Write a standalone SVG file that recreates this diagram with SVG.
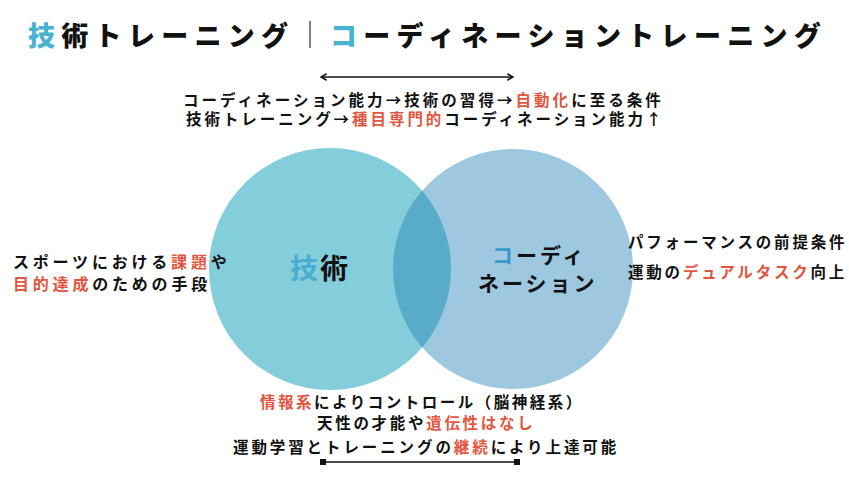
<svg xmlns="http://www.w3.org/2000/svg" width="849" height="477" viewBox="0 0 849 477">
<style>
text { font-family: "Noto Sans CJK JP", "Noto Sans", sans-serif; font-weight: 700; fill: #111111; }
.title { font-size: 27px; letter-spacing: 6.3px; font-weight: 900; }
.body { font-size: 15.5px; letter-spacing: 2.8px; }
.red { fill: #E2553F; }
.blue { fill: #45B3D1; }
.cblue { fill: #3B98CB; }
.circ { font-size: 21px; letter-spacing: 3px; }
</style>
<defs>
<marker id="chev" viewBox="0 0 10 10" refX="9" refY="5" markerWidth="8" markerHeight="8" markerUnits="userSpaceOnUse" orient="auto-start-reverse">
<path d="M2,1 L9,5 L2,9" fill="none" stroke="#111" stroke-width="2"/>
</marker>
<marker id="sq" viewBox="0 0 10 10" refX="5" refY="5" markerWidth="6" markerHeight="6" markerUnits="userSpaceOnUse">
<rect x="0" y="0" width="10" height="10" fill="#111"/>
</marker>
<clipPath id="leftClip"><circle cx="330" cy="269" r="121"/></clipPath>
</defs>
<rect width="849" height="477" fill="#ffffff"/>

<g id="title">
<text class="title" x="28" y="46"><tspan class="blue">技</tspan>術トレーニング</text>
<line x1="310" y1="21" x2="310" y2="48" stroke="#555" stroke-width="1.5"/>
<text class="title" x="330" y="46"><tspan class="blue">コ</tspan>ーディネーショントレーニング</text>
</g>

<g id="circles">
<g id="node-gijutsu">
<circle cx="330" cy="269" r="121" fill="#84CDDA"/>
</g>
<g id="node-coordination">
<circle cx="513" cy="269" r="120" fill="#9DC8DF"/>
</g>
<circle cx="513" cy="269" r="120" fill="#58ABC9" clip-path="url(#leftClip)"/>
<text x="290" y="279" style="font-size:28px;letter-spacing:2px"><tspan fill="#4AAED0">技</tspan>術</text>
<text class="circ" x="492" y="263"><tspan class="cblue">コ</tspan>ーディ</text>
<text class="circ" x="478" y="291">ネーション</text>
</g>

<g id="connectors">
<line x1="321" y1="77" x2="513" y2="77" stroke="#111" stroke-width="1.5" marker-start="url(#chev)" marker-end="url(#chev)"/>
<line x1="323" y1="462" x2="517" y2="462" stroke="#111" stroke-width="1.5" marker-start="url(#sq)" marker-end="url(#sq)"/>
</g>

<g id="top-text">
<text class="body" x="183" y="106" style="letter-spacing:3.05px">コーディネーション能力→技術の習得→<tspan class="red">自動化</tspan>に至る条件</text>
<text class="body" x="186" y="125" style="letter-spacing:2.95px">技術トレーニング→<tspan class="red">種目専門的</tspan>コーディネーション能力↑</text>
</g>

<g id="left-text">
<text class="body" x="13" y="268" style="font-size:16px;letter-spacing:3.8px">スポーツにおける<tspan class="red">課題</tspan>や</text>
<text class="body" x="13" y="290" style="font-size:16px;letter-spacing:3.8px"><tspan class="red">目的達成</tspan>のための手段</text>
</g>

<g id="right-text">
<text class="body" x="628" y="248">パフォーマンスの前提条件</text>
<text class="body" x="628" y="278">運動の<tspan class="red">デュアルタスク</tspan>向上</text>
</g>

<g id="bottom-text">
<text class="body" x="260" y="408" style="letter-spacing:2.5px"><tspan class="red">情報系</tspan>によりコントロール（脳神経系）</text>
<text class="body" x="317" y="429" style="letter-spacing:2.7px">天性の才能や<tspan class="red">遺伝性はなし</tspan></text>
<text class="body" x="233" y="453" style="letter-spacing:2.9px">運動学習とトレーニングの<tspan class="red">継続</tspan>により上達可能</text>
</g>
</svg>
